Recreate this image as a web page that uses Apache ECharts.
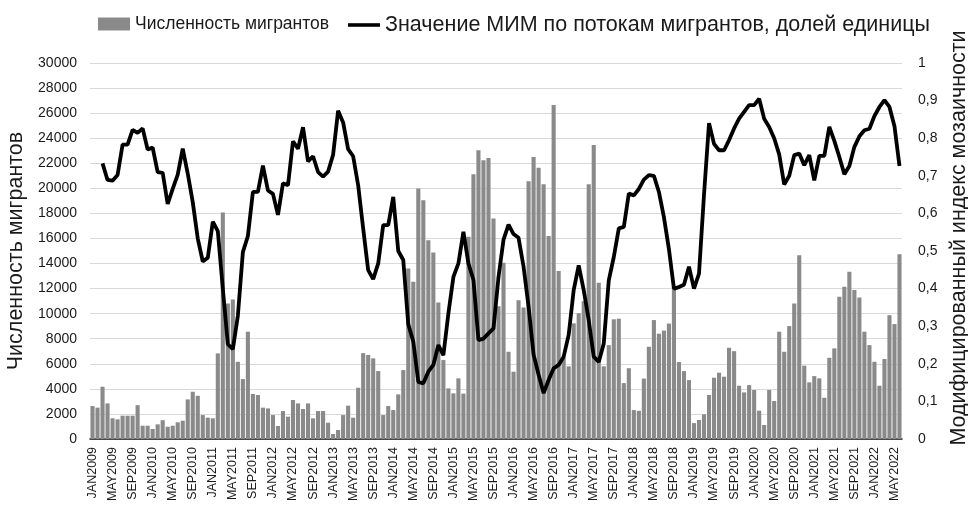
<!DOCTYPE html>
<html>
<head>
<meta charset="utf-8">
<script src="https://cdn.jsdelivr.net/npm/echarts@6/dist/echarts.min.js"></script>
<style>
  html, body { margin: 0; padding: 0; background: #fff; }
  #chart { width: 968px; height: 506px; }
</style>
</head>
<body>
<div id="chart"></div>
<script>
// подписи месяцев (JAN2009 .. JUN2022)
var monthNames = ['JAN', 'FEB', 'MAR', 'APR', 'MAY', 'JUN', 'JUL', 'AUG', 'SEP', 'OCT', 'NOV', 'DEC'];
var years = [2009, 2010, 2011, 2012, 2013, 2014, 2015, 2016, 2017, 2018, 2019, 2020, 2021, 2022];
var lastMonthCount = 6; // в 2022 году данные до JUN

var categories = [];
years.forEach(function (y, yi) {
    var n = yi === years.length - 1 ? lastMonthCount : 12;
    for (var m = 0; m < n; m++) categories.push(monthNames[m] + y);
});

// Численность мигрантов, чел.
var migrants = [
    2630, 2500, 4170, 2840, 1650, 1570, 1860, 1860, 1860, 2700, 1060, 1060,
    800, 1170, 1500, 980, 1060, 1330, 1460, 3160, 3770, 3450, 1910, 1700,
    1650, 6830, 18070, 10810, 11130, 6160, 4780, 8560, 3590, 3510, 2500, 2440,
    1910, 1040, 2230, 1780, 3110, 2840, 2390, 2840, 1650, 2230, 2230, 1300,
    400, 720, 1910, 2660, 1700, 4090, 6850, 6700, 6430, 5420, 1910, 2630,
    2310, 3560, 5500, 13600, 12540, 19980, 19050, 15860, 14880, 10890, 6300, 4040,
    3640, 4840, 3620, 16130, 21120, 23040, 22240, 22430, 17590, 10600, 14060, 6960,
    5370, 11080, 10500, 20570, 22500, 21640, 20330, 16200, 26640, 13400, 6500, 5800,
    9230, 10030, 11000, 20330, 23460, 12470, 5800, 7490, 9550, 9600, 4460, 5650,
    2310, 2250, 4820, 7360, 9490, 8400, 8650, 9210, 12200, 6140, 5420, 4700,
    1270, 1520, 1970, 3510, 4890, 5290, 4970, 7280, 7010, 4250, 3720, 4300,
    3910, 2260, 1120, 3910, 3030, 8560, 6960, 9010, 10810, 14670, 5850, 4520,
    5020, 4840, 3290, 6480, 7230, 11350, 12140, 13340, 11880, 11290, 8560, 7490,
    6160, 4250, 6380, 9880, 9170, 14750
];

// Значение МИМ, долей единицы (с MAR2009)
var mim = [
    null, null, 0.733, 0.689, 0.687, 0.702, 0.783, 0.783, 0.822, 0.814, 0.826, 0.770,
    0.775, 0.710, 0.708, 0.625, 0.665, 0.703, 0.772, 0.706, 0.630, 0.533, 0.472, 0.482,
    0.578, 0.553, 0.400, 0.252, 0.239, 0.328, 0.497, 0.540, 0.657, 0.657, 0.727, 0.661,
    0.652, 0.596, 0.680, 0.675, 0.792, 0.772, 0.829, 0.738, 0.752, 0.710, 0.698, 0.711,
    0.756, 0.873, 0.842, 0.771, 0.752, 0.675, 0.560, 0.449, 0.425, 0.467, 0.569, 0.569,
    0.644, 0.500, 0.476, 0.305, 0.259, 0.152, 0.148, 0.179, 0.197, 0.250, 0.223, 0.334,
    0.431, 0.467, 0.551, 0.467, 0.423, 0.263, 0.267, 0.281, 0.294, 0.431, 0.530, 0.570,
    0.545, 0.535, 0.458, 0.352, 0.224, 0.171, 0.122, 0.157, 0.188, 0.197, 0.219, 0.277,
    0.396, 0.462, 0.396, 0.316, 0.219, 0.205, 0.254, 0.422, 0.484, 0.560, 0.564, 0.653,
    0.648, 0.665, 0.690, 0.702, 0.700, 0.657, 0.590, 0.505, 0.400, 0.404, 0.410, 0.458,
    0.400, 0.440, 0.650, 0.840, 0.785, 0.768, 0.768, 0.795, 0.826, 0.852, 0.870, 0.888,
    0.888, 0.905, 0.852, 0.830, 0.800, 0.757, 0.677, 0.700, 0.755, 0.759, 0.728, 0.755,
    0.688, 0.753, 0.753, 0.830, 0.793, 0.750, 0.704, 0.726, 0.777, 0.805, 0.821, 0.825,
    0.859, 0.883, 0.901, 0.883, 0.832, 0.726
];

var barName = 'Численность мигрантов';
var lineName = 'Значение МИМ по потокам мигрантов, долей единицы';
var fontFamily = '"Liberation Sans", Arial, sans-serif';

var chart = echarts.init(document.getElementById('chart'));

var option = {
    animation: false,
    textStyle: { fontFamily: fontFamily },
    legend: [
        {
            top: 10,
            left: 93,
            itemWidth: 32,
            itemHeight: 13,
            textStyle: { fontSize: 17.5, color: '#1a1a1a', fontFamily: fontFamily },
            data: [{ name: barName, icon: 'rect' }]
        },
        {
            top: 9,
            left: 343,
            itemWidth: 32,
            itemHeight: 13,
            textStyle: { fontSize: 21.5, color: '#1a1a1a', fontFamily: fontFamily },
            data: [{ name: lineName, icon: 'path://M0,0 L40,0 L40,4.5 L0,4.5 Z' }]
        }
    ],
    grid: {
        left: 90,
        right: 66,
        top: 63,
        bottom: 67,
        outerBoundsMode: 'none'
    },
    xAxis: {
        type: 'category',
        data: categories,
        axisLine: { lineStyle: { color: '#1a1a1a', width: 1.5 } },
        axisTick: { show: false },
        axisLabel: {
            interval: 3,
            rotate: 90,
            margin: 8,
            fontSize: 12.5,
            color: '#1a1a1a'
        }
    },
    yAxis: [
        {
            type: 'value',
            min: 0,
            max: 30000,
            interval: 2000,
            name: 'Численность мигрантов',
            nameLocation: 'middle',
            nameRotate: 90,
            nameGap: 57,
            nameTextStyle: { fontSize: 21.5, color: '#1a1a1a' },
            axisLine: { show: false },
            axisTick: { show: false },
            axisLabel: {
                fontSize: 14,
                color: '#1a1a1a',
                margin: 13,
                formatter: function (v) { return String(v); }
            },
            splitLine: { lineStyle: { color: '#d9d9d9', width: 1 } }
        },
        {
            type: 'value',
            min: 0,
            max: 1,
            interval: 0.1,
            name: 'Модифицированный индекс мозаичности',
            nameLocation: 'middle',
            nameRotate: 90,
            nameGap: 44,
            nameTextStyle: { fontSize: 21.5, color: '#1a1a1a', padding: [0, 0, 0, 26] },
            axisLine: { show: false },
            axisTick: { show: false },
            splitLine: { show: false },
            axisLabel: {
                fontSize: 14,
                color: '#1a1a1a',
                margin: 16,
                formatter: function (v) {
                    return String(Math.round(v * 10) / 10).replace('.', ',');
                }
            }
        }
    ],
    series: [
        {
            name: barName,
            type: 'bar',
            data: migrants,
            barCategoryGap: '18%',
            itemStyle: { color: '#8a8a8a' }
        },
        {
            name: lineName,
            type: 'line',
            yAxisIndex: 1,
            data: mim,
            showSymbol: false,
            symbol: 'none',
            lineStyle: { color: '#000', width: 3.8 },
            itemStyle: { color: '#000' }
        }
    ]
};

chart.setOption(option);
</script>
</body>
</html>
